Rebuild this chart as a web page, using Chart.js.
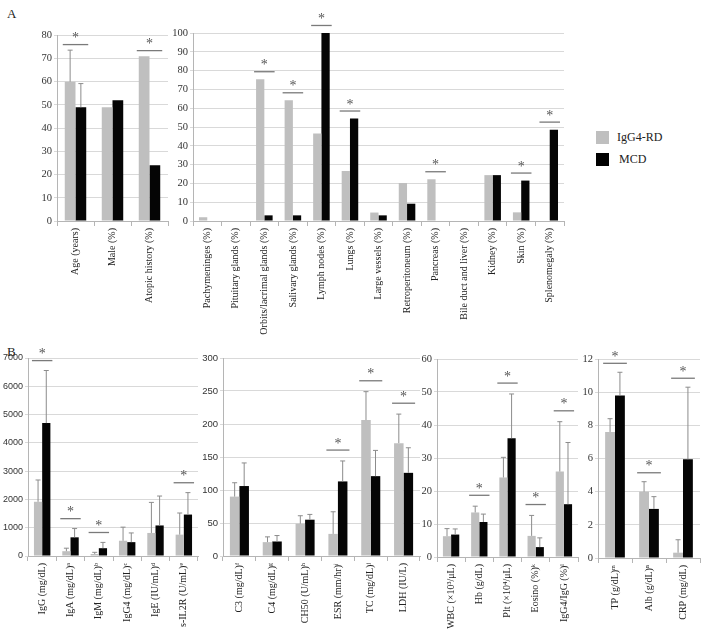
<!DOCTYPE html>
<html>
<head>
<meta charset="utf-8">
<script src="https://cdn.jsdelivr.net/npm/chart.js@4/dist/chart.umd.min.js"></script>
<style>
  body { margin: 0; background: #fff; }
  #wrap { position: relative; width: 708px; height: 629px; overflow: hidden; font-family: "Liberation Serif", serif; }
  .box { position: absolute; }
  .lbl { position: absolute; font-size: 13px; color: #222; }
  .leg { position: absolute; font-size: 12px; color: #222; }
  .sw { position: absolute; width: 13px; height: 13px; }
</style>
</head>
<body>
<div id="wrap">
  <div class="lbl" style="left:7px;top:6px;">A</div>
  <div class="lbl" style="left:7px;top:344px;">B</div>

  <div class="box" style="left:0px;top:27px;"><canvas id="a1" width="170" height="318"></canvas></div>
  <div class="box" style="left:140px;top:5px;"><canvas id="a2" width="428" height="340"></canvas></div>

  <div class="sw" style="left:596px;top:131px;background:#bfbfbf;"></div>
  <div class="leg" style="left:617px;top:130px;">IgG4-RD</div>
  <div class="sw" style="left:596px;top:153px;background:#000;"></div>
  <div class="leg" style="left:619px;top:152px;">MCD</div>

  <div class="box" style="left:0px;top:338px;"><canvas id="b1" width="200" height="291"></canvas></div>
  <div class="box" style="left:200px;top:338px;"><canvas id="b2" width="222" height="291"></canvas></div>
  <div class="box" style="left:420px;top:338px;"><canvas id="b3" width="162" height="291"></canvas></div>
  <div class="box" style="left:580px;top:338px;"><canvas id="b4" width="124" height="291"></canvas></div>
</div>
<script>
// ---- panel A, left: demographics ----
const catsA1 = ["Age (years)", "Male (%)", "Atopic history (%)"];
const rdA1 = [60, 49, 71];
const mcdA1 = [49, 52, 24];
const rdA1Err = [13.6, 0, 0];
const mcdA1Err = [10.2, 0, 0];
const starsA1 = [0, 2];

// ---- panel A, right: organ involvement ----
const catsA2 = ["Pachymeninges (%)", "Pituitary glands (%)", "Orbits/lacrimal glands (%)",
  "Salivary glands (%)", "Lymph nodes (%)", "Lungs (%)", "Large vessels (%)",
  "Retroperitoneum (%)", "Pancreas (%)", "Bile duct and liver (%)", "Kidney (%)",
  "Skin (%)", "Splenomegaly (%)"];
const rdA2 = [2, 0, 75.4, 64.2, 46.6, 26.6, 4.5, 20.2, 22.2, 0, 24.4, 4.6, 0];
const mcdA2 = [0, 0, 3, 3, 100, 54.5, 3, 9.2, 0, 0, 24.4, 21.5, 48.6];
const starsA2 = [2, 3, 4, 5, 8, 11, 12];

// ---- panel B: laboratory findings ----
const catsB1 = ["IgG (mg/dL)", "IgA (mg/dL)\u1d43", "IgM (mg/dL)\u1d47", "IgG4 (mg/dL)\u1d9c",
  "IgE (IU/mL)\u1d48", "s-IL2R (U/mL)\u1d49"];
const rdB1 = [1917, 170, 70, 540, 815, 755];
const mcdB1 = [4698, 660, 276, 490, 1080, 1465];
const rdB1Err = [770, 106, 60, 480, 1080, 765];
const mcdB1Err = [1860, 310, 205, 325, 1040, 775];
const starsB1 = [0, 1, 2, 5];

const catsB2 = ["C3 (mg/dL)\u1da0", "C4 (mg/dL)\u1d4d", "CH50 (U/mL)\u02b0", "ESR (mm/hr)\u2071",
  "TC (mg/dL)\u02b2", "LDH (IU/L)"];
const rdB2 = [90, 21, 49, 33.5, 206, 171];
const mcdB2 = [106, 22, 55, 113, 121, 126];
const rdB2Err = [21, 8, 12, 33.5, 43, 44];
const mcdB2Err = [35, 9, 8, 31, 39, 38];
const starsB2 = [3, 4, 5];

const catsB3 = ["WBC (\u00d710\u00b3/\u03bcL)", "Hb (g/dL)", "Plt (\u00d710\u2074/\u03bcL)",
  "Eosino (%)\u1d4f", "IgG4/IgG (%)\u02e1"];
const rdB3 = [6.3, 13.5, 24.1, 6.4, 25.9];
const mcdB3 = [6.8, 10.6, 36, 3, 16];
const rdB3Err = [2.3, 1.9, 6.1, 6.2, 15.1];
const mcdB3Err = [1.7, 2.4, 13.4, 2.8, 18.7];
const starsB3 = [1, 2, 3, 4];

const catsB4 = ["TP (g/dL)\u1d50", "Alb (g/dL)\u207f", "CRP (mg/dL)"];
const rdB4 = [7.6, 4.0, 0.32];
const mcdB4 = [9.8, 2.96, 5.95];
const rdB4Err = [0.8, 0.6, 0.78];
const mcdB4Err = [1.4, 0.74, 4.35];
const starsB4 = [0, 1, 2];

// error bars (upper only) and significance marks
const markPlugin = {
  id: "marks",
  afterDatasetsDraw(chart, args, opts) {
    const ctx = chart.ctx;
    const ys = chart.scales.y;
    const errs = opts.errs || [];
    const tops = [];
    chart.data.datasets.forEach((ds, di) => {
      const meta = chart.getDatasetMeta(di);
      const e = errs[di] || [];
      ds.data.forEach((v, i) => {
        const t = v + (e[i] || 0);
        tops[i] = Math.max(tops[i] || 0, t);
        if (!e[i]) return;
        const bar = meta.data[i];
        const y0 = ys.getPixelForValue(v);
        const y1 = ys.getPixelForValue(t);
        ctx.save();
        ctx.strokeStyle = "#8c8c8c";
        ctx.lineWidth = 1;
        ctx.beginPath();
        ctx.moveTo(bar.x, y0); ctx.lineTo(bar.x, y1);
        ctx.moveTo(bar.x - 2.5, y1); ctx.lineTo(bar.x + 2.5, y1);
        ctx.stroke();
        ctx.restore();
      });
    });
    const m0 = chart.getDatasetMeta(0), m1 = chart.getDatasetMeta(1);
    (opts.stars || []).forEach(i => {
      const b0 = m0.data[i], b1 = m1.data[i];
      const y = ys.getPixelForValue(tops[i] + opts.gap * ys.max);
      const xa = b0.x - b0.width / 2 - 2, xb = b1.x + b1.width / 2 + 2;
      ctx.save();
      ctx.strokeStyle = "#7a7a7a";
      ctx.lineWidth = 1.3;
      ctx.beginPath();
      ctx.moveTo(xa, y); ctx.lineTo(xb, y);
      ctx.stroke();
      ctx.fillStyle = "#555";
      ctx.font = "14px 'Liberation Serif'";
      ctx.textAlign = "center";
      ctx.textBaseline = "middle";
      ctx.fillText("*", (xa + xb) / 2, y - 6);
      ctx.restore();
    });
  }
};

function panel(id, labels, rd, mcd, rdErr, mcdErr, stars, o) {
  new Chart(id, {
    type: "bar",
    data: {
      labels: labels,
      datasets: [
        { label: "IgG4-RD", data: rd, backgroundColor: "#bfbfbf" },
        { label: "MCD", data: mcd, backgroundColor: "#050505" }
      ]
    },
    options: {
      responsive: false,
      animation: false,
      devicePixelRatio: 1,
      categoryPercentage: 0.58,
      barPercentage: 1,
      layout: { padding: { top: o.top, right: o.right, left: 0, bottom: 0 } },
      plugins: {
        legend: { display: false },
        tooltip: { enabled: false },
        marks: { errs: [rdErr, mcdErr], stars: stars, gap: o.gap }
      },
      scales: {
        x: {
          grid: { offset: true, drawOnChartArea: false, tickLength: 5, color: "#b5b5b5" },
          border: { color: "#b5b5b5" },
          ticks: {
            autoSkip: false, maxRotation: 90, minRotation: 90, padding: 2,
            color: "#222", font: { family: "Liberation Serif", size: 10 }
          },
          afterFit(s) { s.height = o.xh; }
        },
        y: {
          min: 0, max: o.max,
          grid: { color: "#d9d9d9", tickLength: 3 },
          border: { color: "#b5b5b5" },
          ticks: {
            stepSize: o.step, padding: 2, color: "#333",
            callback: v => String(v),
            font: { family: o.tickFamily || "Liberation Serif", size: o.tickSize || 10.5 }
          },
          afterFit(s) { s.width = o.yw; }
        }
      }
    },
    plugins: [markPlugin]
  });
}

panel("a1", catsA1, rdA1, mcdA1, rdA1Err, mcdA1Err, starsA1,
  { max: 80, step: 10, yw: 57, xh: 124, top: 8, right: 2, gap: 0.03 });
panel("a2", catsA2, rdA2, mcdA2, null, null, starsA2,
  { max: 100, step: 10, yw: 53, xh: 124, top: 28, right: 4, gap: 0.04 });
panel("b1", catsB1, rdB1, mcdB1, rdB1Err, mcdB1Err, starsB1,
  { max: 7000, step: 1000, yw: 28, xh: 73, top: 20, right: 2, gap: 0.05,
    tickFamily: "Liberation Sans", tickSize: 9 });
panel("b2", catsB2, rdB2, mcdB2, rdB2Err, mcdB2Err, starsB2,
  { max: 300, step: 50, yw: 23, xh: 73, top: 20, right: 2, gap: 0.055,
    tickFamily: "Liberation Sans", tickSize: 9.5 });
panel("b3", catsB3, rdB3, mcdB3, rdB3Err, mcdB3Err, starsB3,
  { max: 60, step: 10, yw: 17, xh: 72, top: 21, right: 4, gap: 0.055 });
panel("b4", catsB4, rdB4, mcdB4, rdB4Err, mcdB4Err, starsB4,
  { max: 12, step: 2, yw: 18, xh: 71, top: 21, right: 4, gap: 0.045 });
</script>
</body>
</html>
